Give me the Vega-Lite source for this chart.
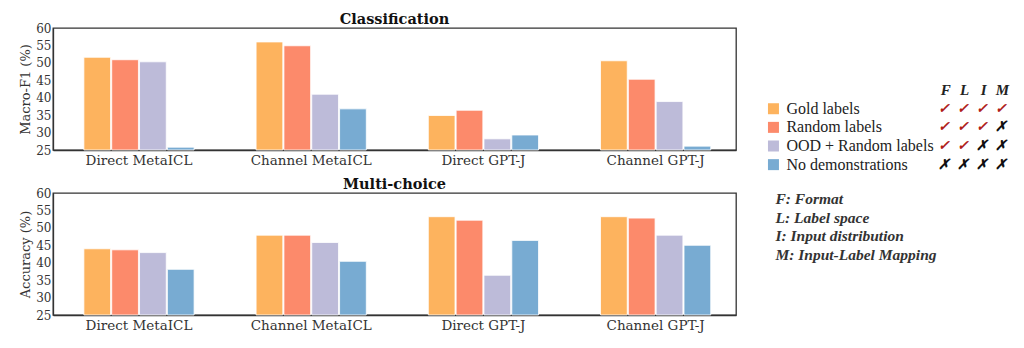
{
  "$schema": "https://vega.github.io/schema/vega-lite/v6.json",
  "padding": {"left": 19, "top": 10, "right": 5, "bottom": 5},
  "config": {
    "font": "DejaVu Serif",
    "view": {"stroke": "#333", "strokeWidth": 1.3},
    "axis": {"domainColor": "#333", "domainWidth": 1.3, "labelColor": "#333", "titleColor": "#333", "grid": false}
  },
  "datasets": {
    "bars": [
      {"task": "Classification", "model": "Direct MetaICL", "cond": "Gold labels", "value": 51.6},
      {"task": "Classification", "model": "Direct MetaICL", "cond": "Random labels", "value": 50.9},
      {"task": "Classification", "model": "Direct MetaICL", "cond": "OOD + Random labels", "value": 50.3},
      {"task": "Classification", "model": "Direct MetaICL", "cond": "No demonstrations", "value": 25.8},
      {"task": "Classification", "model": "Channel MetaICL", "cond": "Gold labels", "value": 56.0},
      {"task": "Classification", "model": "Channel MetaICL", "cond": "Random labels", "value": 54.9},
      {"task": "Classification", "model": "Channel MetaICL", "cond": "OOD + Random labels", "value": 41.0},
      {"task": "Classification", "model": "Channel MetaICL", "cond": "No demonstrations", "value": 36.8},
      {"task": "Classification", "model": "Direct GPT-J", "cond": "Gold labels", "value": 34.9},
      {"task": "Classification", "model": "Direct GPT-J", "cond": "Random labels", "value": 36.4},
      {"task": "Classification", "model": "Direct GPT-J", "cond": "OOD + Random labels", "value": 28.2},
      {"task": "Classification", "model": "Direct GPT-J", "cond": "No demonstrations", "value": 29.3},
      {"task": "Classification", "model": "Channel GPT-J", "cond": "Gold labels", "value": 50.6},
      {"task": "Classification", "model": "Channel GPT-J", "cond": "Random labels", "value": 45.3},
      {"task": "Classification", "model": "Channel GPT-J", "cond": "OOD + Random labels", "value": 38.9},
      {"task": "Classification", "model": "Channel GPT-J", "cond": "No demonstrations", "value": 26.1},
      {"task": "Multi-choice", "model": "Direct MetaICL", "cond": "Gold labels", "value": 44.0},
      {"task": "Multi-choice", "model": "Direct MetaICL", "cond": "Random labels", "value": 43.7},
      {"task": "Multi-choice", "model": "Direct MetaICL", "cond": "OOD + Random labels", "value": 42.9},
      {"task": "Multi-choice", "model": "Direct MetaICL", "cond": "No demonstrations", "value": 38.1},
      {"task": "Multi-choice", "model": "Channel MetaICL", "cond": "Gold labels", "value": 47.9},
      {"task": "Multi-choice", "model": "Channel MetaICL", "cond": "Random labels", "value": 47.9},
      {"task": "Multi-choice", "model": "Channel MetaICL", "cond": "OOD + Random labels", "value": 45.8},
      {"task": "Multi-choice", "model": "Channel MetaICL", "cond": "No demonstrations", "value": 40.4},
      {"task": "Multi-choice", "model": "Direct GPT-J", "cond": "Gold labels", "value": 53.2},
      {"task": "Multi-choice", "model": "Direct GPT-J", "cond": "Random labels", "value": 52.2},
      {"task": "Multi-choice", "model": "Direct GPT-J", "cond": "OOD + Random labels", "value": 36.4},
      {"task": "Multi-choice", "model": "Direct GPT-J", "cond": "No demonstrations", "value": 46.4},
      {"task": "Multi-choice", "model": "Channel GPT-J", "cond": "Gold labels", "value": 53.2},
      {"task": "Multi-choice", "model": "Channel GPT-J", "cond": "Random labels", "value": 52.8},
      {"task": "Multi-choice", "model": "Channel GPT-J", "cond": "OOD + Random labels", "value": 47.9},
      {"task": "Multi-choice", "model": "Channel GPT-J", "cond": "No demonstrations", "value": 45.0}
    ],
    "legend": [
      {"cond": "Gold labels"},
      {"cond": "Random labels"},
      {"cond": "OOD + Random labels"},
      {"cond": "No demonstrations"}
    ],
    "checks": [
      {"cond": "Gold labels", "col": "F", "ok": true},
      {"cond": "Gold labels", "col": "L", "ok": true},
      {"cond": "Gold labels", "col": "I", "ok": true},
      {"cond": "Gold labels", "col": "M", "ok": true},
      {"cond": "Random labels", "col": "F", "ok": true},
      {"cond": "Random labels", "col": "L", "ok": true},
      {"cond": "Random labels", "col": "I", "ok": true},
      {"cond": "Random labels", "col": "M", "ok": false},
      {"cond": "OOD + Random labels", "col": "F", "ok": true},
      {"cond": "OOD + Random labels", "col": "L", "ok": true},
      {"cond": "OOD + Random labels", "col": "I", "ok": false},
      {"cond": "OOD + Random labels", "col": "M", "ok": false},
      {"cond": "No demonstrations", "col": "F", "ok": false},
      {"cond": "No demonstrations", "col": "L", "ok": false},
      {"cond": "No demonstrations", "col": "I", "ok": false},
      {"cond": "No demonstrations", "col": "M", "ok": false}
    ],
    "cols": [{"col": "F"}, {"col": "L"}, {"col": "I"}, {"col": "M"}],
    "defs": [
      {"line": "F: Format"},
      {"line": "L: Label space"},
      {"line": "I: Input distribution"},
      {"line": "M: Input-Label Mapping"}
    ]
  },
  "hconcat": [
    {
      "spacing": 7,
      "vconcat": [
        {
          "title": {"text": "Classification", "font": "DejaVu Serif", "fontSize": 14.5, "fontWeight": "bold", "color": "#111", "anchor": "middle", "offset": -5},
          "width": 683,
          "height": 122,
          "data": {"name": "bars"},
          "transform": [{"filter": "datum.task == 'Classification'"}],
          "mark": {"type": "bar", "stroke": "white", "strokeWidth": 0.8},
          "encoding": {
            "x": {"field": "model", "type": "nominal", "sort": ["Direct MetaICL", "Channel MetaICL", "Direct GPT-J", "Channel GPT-J"], "scale": {"paddingInner": 0.36, "paddingOuter": 0.163, "align": 0.55}, "axis": {"title": null, "labelAngle": 0, "ticks": false, "labelFontSize": 13.5, "labelPadding": 3, "labelFont": "DejaVu Serif"}},
            "xOffset": {"field": "cond", "type": "nominal", "sort": ["Gold labels", "Random labels", "OOD + Random labels", "No demonstrations"], "scale": {"paddingInner": 0.04}},
            "y": {"field": "value", "type": "quantitative", "scale": {"domain": [25, 60], "zero": false, "nice": false}, "axis": {"title": "Macro-F1 (%)", "values": [25, 30, 35, 40, 45, 50, 55, 60], "ticks": false, "labelPadding": 2, "labelFontSize": 12, "titleFontSize": 13, "titleFontWeight": "normal", "titlePadding": 3, "labelFont": "DejaVu Serif", "titleFont": "DejaVu Serif"}},
            "y2": {"datum": 25},
            "color": {"field": "cond", "type": "nominal", "scale": {"domain": ["Gold labels", "Random labels", "OOD + Random labels", "No demonstrations"], "range": ["#FDB35E", "#FC8A6B", "#BDBBD9", "#78ABD2"]}, "legend": null}
          }
        },
        {
          "title": {"text": "Multi-choice", "font": "DejaVu Serif", "fontSize": 14.5, "fontWeight": "bold", "color": "#111", "anchor": "middle", "offset": -5},
          "width": 683,
          "height": 122,
          "data": {"name": "bars"},
          "transform": [{"filter": "datum.task == 'Multi-choice'"}],
          "mark": {"type": "bar", "stroke": "white", "strokeWidth": 0.8},
          "encoding": {
            "x": {"field": "model", "type": "nominal", "sort": ["Direct MetaICL", "Channel MetaICL", "Direct GPT-J", "Channel GPT-J"], "scale": {"paddingInner": 0.36, "paddingOuter": 0.163, "align": 0.55}, "axis": {"title": null, "labelAngle": 0, "ticks": false, "labelFontSize": 13.5, "labelPadding": 3, "labelFont": "DejaVu Serif"}},
            "xOffset": {"field": "cond", "type": "nominal", "sort": ["Gold labels", "Random labels", "OOD + Random labels", "No demonstrations"], "scale": {"paddingInner": 0.04}},
            "y": {"field": "value", "type": "quantitative", "scale": {"domain": [25, 60], "zero": false, "nice": false}, "axis": {"title": "Accuracy (%)", "values": [25, 30, 35, 40, 45, 50, 55, 60], "ticks": false, "labelPadding": 2, "labelFontSize": 12, "titleFontSize": 13, "titleFontWeight": "normal", "titlePadding": 3, "labelFont": "DejaVu Serif", "titleFont": "DejaVu Serif"}},
            "y2": {"datum": 25},
            "color": {"field": "cond", "type": "nominal", "scale": {"domain": ["Gold labels", "Random labels", "OOD + Random labels", "No demonstrations"], "range": ["#FDB35E", "#FC8A6B", "#BDBBD9", "#78ABD2"]}, "legend": null}
          }
        }
      ]
    },
    {
      "width": 246,
      "height": 236,
      "view": {"stroke": null},
      "layer": [
        {
          "data": {"name": "legend"},
          "mark": {"type": "square", "size": 121, "opacity": 1, "filled": true},
          "encoding": {
            "x": {"datum": "sw", "type": "nominal", "scale": {"type": "point", "domain": ["sw", "lab", "p1", "p2", "p3", "p4", "p5", "p6", "p7", "F", "L", "I", "M"], "padding": 0.5}, "axis": null},
            "y": {"field": "cond", "type": "nominal", "scale": {"type": "point", "domain": ["_1", "_2", "_3", "hdr", "Gold labels", "Random labels", "OOD + Random labels", "No demonstrations", "_5", "F: Format", "L: Label space", "I: Input distribution", "M: Input-Label Mapping"], "padding": 0.333}, "axis": null},
            "color": {"field": "cond", "type": "nominal", "legend": null}
          }
        },
        {
          "data": {"name": "legend"},
          "mark": {"type": "text", "align": "left", "dx": -6, "font": "Liberation Serif", "fontSize": 16, "color": "#222"},
          "encoding": {
            "x": {"datum": "lab", "type": "nominal"},
            "y": {"field": "cond", "type": "nominal"},
            "text": {"field": "cond"}
          }
        },
        {
          "data": {"name": "checks"},
          "mark": {"type": "text", "align": "center", "font": "DejaVu Serif", "fontSize": 14, "fontStyle": "italic", "fontWeight": "bold"},
          "encoding": {
            "x": {"field": "col", "type": "nominal"},
            "y": {"field": "cond", "type": "nominal"},
            "text": {"condition": {"test": "datum.ok", "value": "✓"}, "value": "✗"},
            "color": {"condition": {"test": "datum.ok", "value": "#B0201A"}, "value": "#111"}
          }
        },
        {
          "data": {"name": "cols"},
          "mark": {"type": "text", "align": "center", "dx": 2, "font": "Liberation Serif", "fontSize": 15, "fontStyle": "italic", "fontWeight": "bold", "color": "#222"},
          "encoding": {
            "x": {"field": "col", "type": "nominal"},
            "y": {"datum": "hdr", "type": "nominal"},
            "text": {"field": "col"}
          }
        },
        {
          "data": {"name": "defs"},
          "mark": {"type": "text", "align": "left", "dx": 2, "dy": -3, "font": "Liberation Serif", "fontSize": 15.5, "fontStyle": "italic", "fontWeight": "bold", "color": "#333"},
          "encoding": {
            "x": {"datum": "sw", "type": "nominal"},
            "y": {"field": "line", "type": "nominal"},
            "text": {"field": "line"}
          }
        }
      ]
    }
  ],
  "spacing": 27
}
